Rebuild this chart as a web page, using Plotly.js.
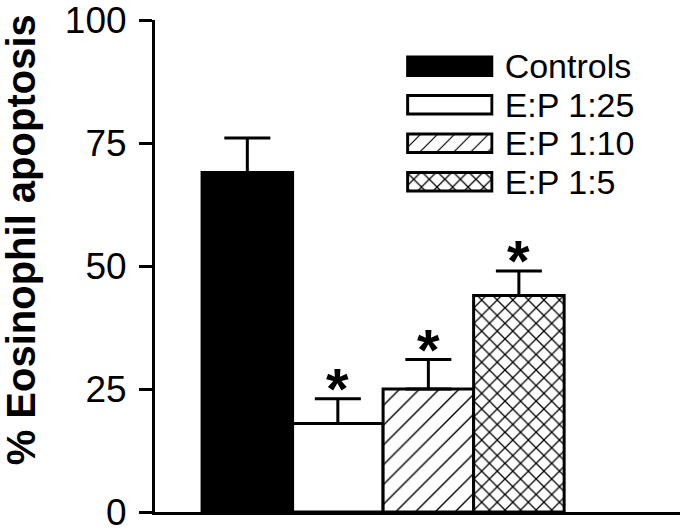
<!DOCTYPE html>
<html lang="en">
<head>
    <meta charset="UTF-8">
    <title>Eosinophil apoptosis</title>
    <script src="https://cdn.plot.ly/plotly-3.0.1.min.js"></script>
    <style>
        body { margin: 0; background: #fff; }
        #chart { width: 685px; height: 532px; }
    </style>
</head>
<body>
    <div id="chart"></div>

    <script>
        // values
        const groups = ['Controls', 'E:P 1:25', 'E:P 1:10', 'E:P 1:5'];
        const apoptosis = [69, 18, 25, 44];
        const sem = [7, 5, 6, 5];
        const significant = [false, true, true, true];
        const yTicks = [0, 25, 50, 75, 100];

        const fills = ['black', 'white', 'white', 'white'];
        const hatches = ['', '', '/', 'x'];
        const font = 'Liberation Sans, Arial, sans-serif';

        // hatch look: sparse thin slashes, denser heavier cross-hatch
        function hatch(i, slashSize) {
            const cross = hatches[i] === 'x';
            return {
                shape: hatches[i], fgcolor: 'black', bgcolor: 'white',
                size: cross ? 11 : slashSize, solidity: cross ? 0.22 : 0.1
            };
        }

        // main bars, one trace per group (per-point pattern arrays did not draw)
        const bars = groups.map((g, i) => ({
            x: [g],
            y: [apoptosis[i]],
            type: 'bar',
            width: 1,
            marker: {
                color: fills[i],
                line: { color: 'black', width: 3 },
                pattern: hatch(i, 14)
            },
            error_y: {
                type: 'data', array: [sem[i]], arrayminus: [0], symmetric: false,
                color: 'black', thickness: 3, width: 23
            },
            showlegend: false,
            hoverinfo: 'skip'
        }));

        // legend drawn as wide swatches on a small side axis
        const key = groups.map((g, i) => ({
            y: [g],
            x: [1],
            type: 'bar',
            orientation: 'h',
            width: 0.48,
            xaxis: 'x2',
            yaxis: 'y2',
            marker: {
                color: fills[i],
                line: { color: 'black', width: 3 },
                pattern: hatch(i, 12)
            },
            showlegend: false,
            hoverinfo: 'skip'
        }));

        // asterisks over the significant bars
        const stars = groups.map((g, i) => significant[i] ? {
            x: g, y: apoptosis[i] + sem[i], xref: 'x', yref: 'y',
            text: '*', showarrow: false, yanchor: 'middle', yshift: 10,
            font: { family: font, size: 58, weight: 'bold', color: 'black' }
        } : null).filter(a => a);

        const layout = {
            width: 685,
            height: 532,
            margin: { l: 155, r: 5, t: 20, b: 20 },
            paper_bgcolor: 'white',
            plot_bgcolor: 'white',
            font: { family: font, color: 'black' },
            barmode: 'overlay',
            bargap: 0,
            xaxis: {
                range: [-1.02, 4.78],
                showline: true, linecolor: 'black', linewidth: 3,
                showticklabels: false, ticks: '', showgrid: false, zeroline: false,
                fixedrange: true
            },
            yaxis: {
                range: [0, 100],
                tickvals: yTicks,
                ticks: 'outside', ticklen: 13, tickwidth: 3, tickcolor: 'black',
                ticklabelstandoff: 5,
                ticklabeloverflow: 'allow',
                tickfont: { size: 37 },
                showline: true, linecolor: 'black', linewidth: 3,
                showgrid: false, zeroline: false, fixedrange: true
            },
            xaxis2: {
                domain: [0.478, 0.645], anchor: 'y2', range: [-0.02, 1.02],
                visible: false, fixedrange: true
            },
            yaxis2: {
                domain: [0.632, 0.945], anchor: 'x2', side: 'right',
                autorange: 'reversed',
                tickvals: groups,
                showline: false, showgrid: false, zeroline: false, ticks: '',
                ticklabelstandoff: 10,
                ticklabeloverflow: 'allow',
                tickfont: { size: 34 }, fixedrange: true
            },
            annotations: stars.concat([{
                text: '% Eosinophil apoptosis',
                xref: 'paper', yref: 'paper', x: -0.302, y: 0.553,
                textangle: -90, showarrow: false,
                font: { family: font, size: 40, weight: 'bold', color: 'black' }
            }])
        };

        Plotly.newPlot('chart', bars.concat(key), layout, { displayModeBar: false, staticPlot: true });
    </script>
</body>
</html>
